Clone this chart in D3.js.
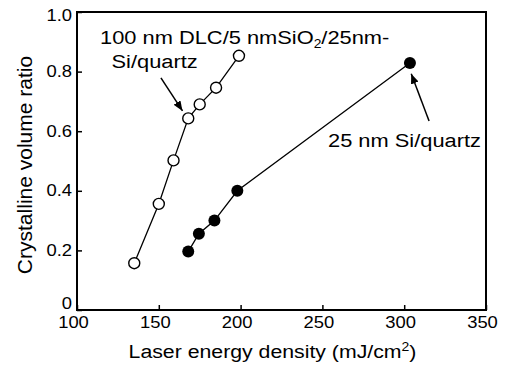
<!DOCTYPE html>
<html>
<head>
<meta charset="utf-8">
<script src="https://cdn.jsdelivr.net/npm/d3@7"></script>
<style>
  html, body { margin: 0; padding: 0; background: #fff; }
  svg { display: block; font-family: "Liberation Sans", Arial, Helvetica, sans-serif; }
</style>
</head>
<body>
<svg id="chart" width="505" height="367"></svg>
<script>
// ---- data ----
const xTicks = [100, 150, 200, 250, 300, 350];
const yTicks = [0, 0.2, 0.4, 0.6, 0.8, 1.0];
const yTickLabels = ["0", "0.2", "0.4", "0.6", "0.8", "1.0"];

const dlcEnergy = [135, 150, 159, 168, 175, 185, 199];
const dlcRatio  = [0.157, 0.356, 0.502, 0.643, 0.69, 0.746, 0.853];

const siEnergy = [168, 174.5, 184, 198, 303.5];
const siRatio  = [0.196, 0.256, 0.30, 0.40, 0.829];

// arrows (data space): [fromX, fromY, toX, toY]
const arrowDLC = [151.3, 0.779, 164.5, 0.668];
const arrowSi  = [315.2, 0.634, 304.3, 0.793];

// ---- layout ----
const svg = d3.select("#chart");
const L = 77, R = 486, T = 12, B = 310;
const x = d3.scaleLinear().domain([100, 350]).range([L, R]);
const y = d3.scaleLinear().domain([0, 1]).range([B, T]);
const SX = 1.15;

function stretch(sel, s) {
  sel.each(function () {
    const t = d3.select(this);
    const tx = +t.attr("x") || 0;
    const ty = +t.attr("y") || 0;
    t.attr("x", 0).attr("y", 0)
     .attr("transform", `translate(${tx},${ty}) scale(${s},1)`);
  });
}

// marker
svg.append("defs").append("marker")
  .attr("id", "arrow").attr("viewBox", "0 0 10 8")
  .attr("refX", 10).attr("refY", 4)
  .attr("markerWidth", 10).attr("markerHeight", 8)
  .attr("markerUnits", "userSpaceOnUse")
  .attr("orient", "auto")
  .append("path").attr("d", "M0,0 L10,4 L0,8 Z").attr("fill", "#000");

// axes
const yAxis = svg.append("g").attr("transform", `translate(${L},0)`)
  .call(d3.axisLeft(y).tickValues(yTicks).tickFormat((d, i) => yTickLabels[i])
    .tickSizeInner(-5).tickSizeOuter(0).tickPadding(5));
const xAxis = svg.append("g").attr("transform", `translate(0,${B})`)
  .call(d3.axisBottom(x).tickValues(xTicks).tickFormat(d3.format("d"))
    .tickSizeInner(-5).tickSizeOuter(0).tickPadding(6));

[yAxis, xAxis].forEach(g => {
  g.select(".domain").remove();
  g.selectAll(".tick line").attr("stroke", "#000").attr("stroke-width", 1.5);
  g.selectAll(".tick text").attr("fill", "#000")
    .style("font-size", "16px").style("font-family", "Liberation Sans, Arial, sans-serif");
});
yAxis.selectAll(".tick text").attr("dy", d => d === 0 ? "-0.08em" : d === 1 ? "0.5em" : "0.32em");
xAxis.selectAll(".tick text").attr("x", -4).attr("dy", "0.74em");
stretch(yAxis.selectAll(".tick text"), SX);
stretch(xAxis.selectAll(".tick text"), SX);

// frame
svg.append("rect")
  .attr("x", L).attr("y", T).attr("width", R - L).attr("height", B - T)
  .attr("fill", "none").attr("stroke", "#000").attr("stroke-width", 2);

// lines
const line = d3.line().x(d => x(d[0])).y(d => y(d[1]));
const dlc = dlcEnergy.map((e, i) => [e, dlcRatio[i]]);
const si = siEnergy.map((e, i) => [e, siRatio[i]]);

svg.append("path").datum(dlc).attr("d", line)
  .attr("fill", "none").attr("stroke", "#000").attr("stroke-width", 1.3);
svg.append("path").datum(si).attr("d", line)
  .attr("fill", "none").attr("stroke", "#000").attr("stroke-width", 1.3);

svg.append("g").selectAll("circle").data(dlc).join("circle")
  .attr("cx", d => x(d[0])).attr("cy", d => y(d[1])).attr("r", 5.5)
  .attr("fill", "#fff").attr("stroke", "#000").attr("stroke-width", 1.4);
svg.append("g").selectAll("circle").data(si).join("circle")
  .attr("cx", d => x(d[0])).attr("cy", d => y(d[1])).attr("r", 6)
  .attr("fill", "#000");

// arrows
[arrowDLC, arrowSi].forEach(a => {
  svg.append("line")
    .attr("x1", x(a[0])).attr("y1", y(a[1]))
    .attr("x2", x(a[2])).attr("y2", y(a[3]))
    .attr("stroke", "#000").attr("stroke-width", 1.5)
    .attr("marker-end", "url(#arrow)");
});

// annotations
const fs = 19;
const a1 = svg.append("text").attr("x", 100).attr("y", 43.5)
  .style("font-size", fs + "px").attr("fill", "#000");
a1.append("tspan").text("100 nm DLC/5 nmSiO");
a1.append("tspan").text("2").style("font-size", "12px").attr("dy", 4);
a1.append("tspan").text("/25nm-").attr("dy", -4);
const a2 = svg.append("text").attr("x", 111.5).attr("y", 68)
  .style("font-size", fs + "px").attr("fill", "#000").text("Si/quartz");
const a3 = svg.append("text").attr("x", 328).attr("y", 147)
  .style("font-size", fs + "px").attr("fill", "#000").text("25 nm Si/quartz");
stretch(a1, SX); stretch(a2, SX); stretch(a3, SX);

// axis titles
const xt = svg.append("text").attr("x", 272.5).attr("y", 358)
  .attr("text-anchor", "middle").style("font-size", "19px").attr("fill", "#000");
xt.append("tspan").text("Laser energy density (mJ/cm");
xt.append("tspan").text("2").style("font-size", "12.5px").attr("dy", -7);
xt.append("tspan").text(")").attr("dy", 7);
stretch(xt, 1.12);

svg.append("text")
  .attr("transform", `translate(32,165) rotate(-90)`)
  .attr("text-anchor", "middle").style("font-size", "21px").attr("fill", "#000")
  .text("Crystalline volume ratio");
</script>
</body>
</html>
